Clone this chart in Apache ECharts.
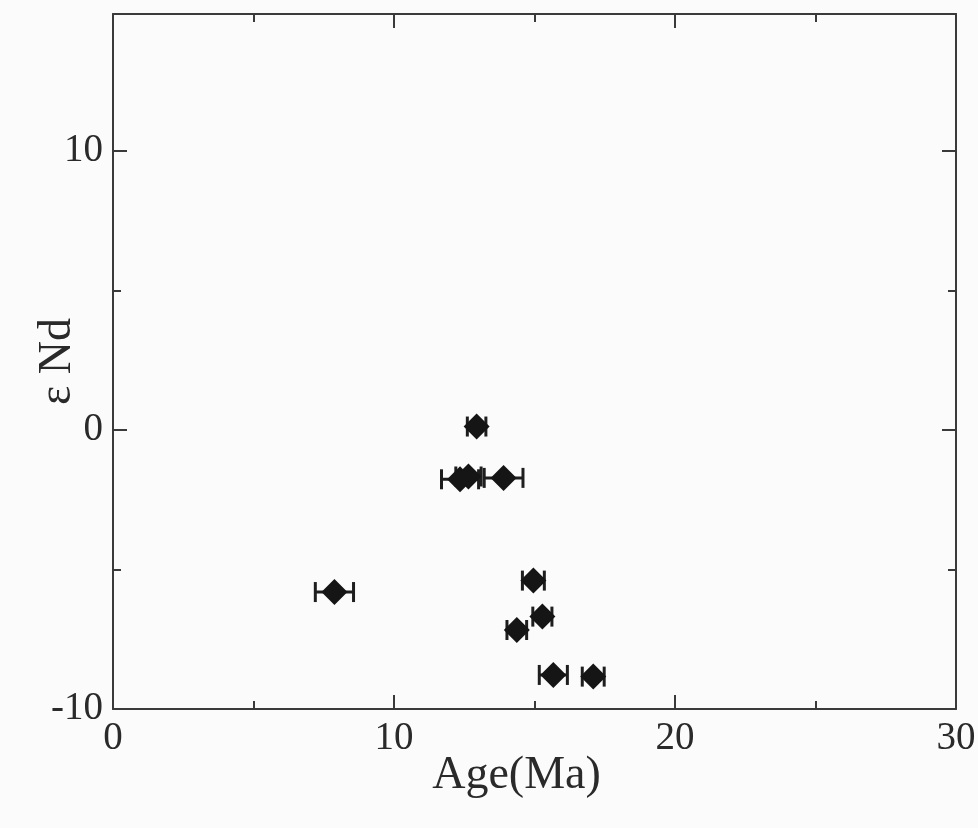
<!DOCTYPE html>
<html>
<head>
<meta charset="utf-8">
<script src="https://cdn.jsdelivr.net/npm/echarts@6/dist/echarts.min.js"></script>
<style>
html,body{margin:0;padding:0;background:#fbfbfb;}
#chart{width:978px;height:828px;}
</style>
</head>
<body>
<div id="chart"></div>
<script>
// Age (Ma) of each sample
var ages = [12.94, 12.35, 12.65, 13.9, 7.88, 14.96, 15.28, 14.37, 15.67, 17.09];
// Age uncertainty (± Ma)
var ageErr = [0.33, 0.66, 0.45, 0.69, 0.68, 0.39, 0.34, 0.35, 0.5, 0.39];
// εNd values
var epsNd = [0.12, -1.77, -1.67, -1.72, -5.81, -5.40, -6.69, -7.17, -8.78, -8.84];
// axis tick labels
var xTicks = [0, 10, 20, 30];
var yTicks = [-10, 0, 10];

var pts = ages.map(function (a, i) { return [a, epsNd[i]]; });
var errs = ages.map(function (a, i) { return [a - ageErr[i], a + ageErr[i], epsNd[i]]; });

var fontFam = '"Liberation Serif", "DejaVu Serif", serif';
var axisCol = '#3a3a3a';
var textCol = '#2a2a2a';

function xAx(pos, show) {
  return {
    type: 'value', position: pos, min: 0, max: 30, interval: 10,
    name: show ? 'Age(Ma)' : '', nameLocation: 'middle', nameGap: 44, nameMoveOverlap: false,
    nameTextStyle: { fontFamily: fontFam, fontSize: 46, color: textCol, padding: [0, 36, 0, 0] },
    axisLine: { show: true, onZero: false, lineStyle: { color: axisCol, width: 2 } },
    axisTick: { show: true, inside: true, length: 14, lineStyle: { color: axisCol, width: 2 } },
    minorTick: { show: true, splitNumber: 2, length: 8, lineStyle: { color: axisCol, width: 2 } },
    axisLabel: {
      show: show, margin: 10, fontFamily: fontFam, fontSize: 39, color: textCol,
      formatter: function (v) { return xTicks.indexOf(v) >= 0 ? String(v) : ''; }
    },
    splitLine: { show: false }
  };
}
function yAx(pos, show) {
  return {
    type: 'value', position: pos, min: -10, max: 14.9, interval: 10,
    name: show ? 'ε Nd' : '', nameLocation: 'middle', nameGap: 32, nameRotate: 90, nameMoveOverlap: false,
    nameTextStyle: { fontFamily: fontFam, fontSize: 46, color: textCol },
    axisLine: { show: true, onZero: false, lineStyle: { color: axisCol, width: 2 } },
    axisTick: { show: true, inside: true, length: 14, lineStyle: { color: axisCol, width: 2 } },
    minorTick: { show: true, splitNumber: 2, length: 8, lineStyle: { color: axisCol, width: 2 } },
    axisLabel: {
      show: show, margin: 10, showMaxLabel: false, fontFamily: fontFam, fontSize: 39, color: textCol,
      formatter: function (v) { return yTicks.indexOf(v) >= 0 ? String(v) : ''; }
    },
    splitLine: { show: false }
  };
}

var chart = echarts.init(document.getElementById('chart'), null, { renderer: 'canvas' });
chart.setOption({
  backgroundColor: '#fbfbfb',
  animation: false,
  grid: { left: 113, right: 22, top: 14, bottom: 119, containLabel: false, outerBoundsMode: 'none' },
  xAxis: [xAx('bottom', true), xAx('top', false)],
  yAxis: [yAx('left', true), yAx('right', false)],
  series: [
    {
      type: 'custom',
      xAxisIndex: 0, yAxisIndex: 0,
      data: errs,
      renderItem: function (params, api) {
        var p1 = api.coord([api.value(0), api.value(2)]);
        var p2 = api.coord([api.value(1), api.value(2)]);
        var h = 10;
        var st = { stroke: '#1e1e1e', lineWidth: 3 };
        return {
          type: 'group',
          children: [
            { type: 'line', shape: { x1: p1[0], y1: p1[1], x2: p2[0], y2: p2[1] }, style: st },
            { type: 'line', shape: { x1: p1[0], y1: p1[1] - h, x2: p1[0], y2: p1[1] + h }, style: st },
            { type: 'line', shape: { x1: p2[0], y1: p2[1] - h, x2: p2[0], y2: p2[1] + h }, style: st }
          ]
        };
      },
      z: 2
    },
    {
      type: 'scatter',
      xAxisIndex: 0, yAxisIndex: 0,
      data: pts,
      symbol: 'diamond',
      symbolSize: [26, 26],
      itemStyle: { color: '#151515', opacity: 1 },
      z: 3
    }
  ]
});
</script>
</body>
</html>
